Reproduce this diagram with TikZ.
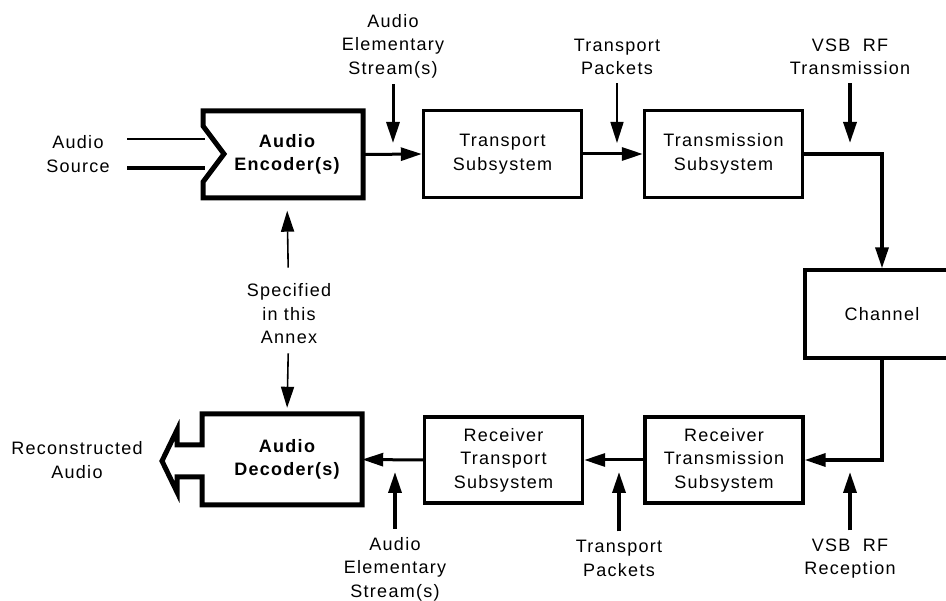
\documentclass[tikz,border=0pt]{standalone}
\usepackage{fontspec}
\setmainfont{Liberation Sans}[LetterSpace=7]
\usetikzlibrary{arrows.meta}

\begin{document}
\begin{tikzpicture}[x=1pt,y=-1pt,
  every node/.style={font=\fontsize{18}{23.5}\selectfont, align=center, inner sep=0pt},
  blockbox/.style={draw, line width=3.4pt, minimum width=158pt, minimum height=87pt},
  audiotext/.style={minimum height=88pt, font=\fontsize{18}{23.5}\selectfont\bfseries},
  flow/.style={line width=3pt, -{Triangle[length=21pt,width=13pt]}},
  heavyfeed/.style={line width=3.4pt, -{Triangle[length=21pt,width=13pt]}},
  thinfeed/.style={line width=1.6pt, -{Triangle[length=21pt,width=13pt]}},
  outline/.style={line width=5pt, line join=miter}
]
\useasboundingbox (0,0) rectangle (946,601);

% ---- encoder with notched input ----
\node[audiotext, minimum width=152pt] (enc) at (287,154.5) {Audio\\Encoder(s)};
\draw[outline] (203,111) -- (363,111) -- (363,198) -- (203,198) -- (203,182)
  -- (224,154) -- (203,126) -- cycle;
\node (src) at (78,154) {Audio\\Source};
\coordinate (srcA) at (127,139);
\coordinate (srcB) at (127,168);
\draw[line width=1.5pt] (srcA) -- (205,139);
\draw[line width=3.4pt] (srcB) -- (205,168);

% ---- decoder with block-arrow output ----
\node[audiotext, minimum width=150pt, minimum height=91pt] (dec) at (287,459.5) {Audio\\Decoder(s)};
\draw[outline] (202,414) -- (362,414) -- (362,505) -- (202,505) -- (202,477)
  -- (177,477) -- (177,492) -- (162,461) -- (177,430) -- (177,445) -- (202,445) -- cycle;
\node (rec) at (77,460) {Reconstructed\\Audio};

% ---- processing blocks ----
\node[blockbox] (tr) at (502.5,154) {Transport\\Subsystem};
\node[blockbox] (tm) at (723.5,154) {Transmission\\Subsystem};
\node[blockbox, minimum width=154pt, minimum height=88pt] (ch) at (882,314) {Channel};
\node[blockbox, minimum height=86pt] (rtm) at (724,460) {Receiver\\Transmission\\Subsystem};
\node[blockbox, minimum height=86pt] (rt) at (503.5,460) {Receiver\\Transport\\Subsystem};

% ---- main signal path ----
\draw[flow] (enc.east) -- (tr.west);
\draw[flow] (tr.east) -- (tm.west);
\draw[heavyfeed] (tm.east) -| (ch.north);
\draw[heavyfeed] (ch.south) |- (rtm.east);
\draw[flow] (rtm.west) -- (rt.east);
\draw[flow] (rt.west) -- (dec.east);

% ---- annotations on the transmit side ----
\node (aesT) at (393,46) {Audio\\Elementary\\Stream(s)};
\coordinate (aesTtip) at (393,143);
\draw[flow, shorten <=6pt] (aesT) -- (aesTtip);

\node (tpT) at (617,57) {Transport\\Packets};
\coordinate (tpTtip) at (617,143);
\draw[thinfeed, shorten <=8pt] (tpT) -- (tpTtip);

\node (vsbT) at (850,57) {VSB\ \ RF\\Transmission};
\coordinate (vsbTtip) at (850,143);
\draw[heavyfeed, shorten <=8pt] (vsbT) -- (vsbTtip);

% ---- scope note between encoder and decoder ----
\node (spec) at (289,314) {Specified\\in this\\Annex};
\draw[thinfeed, shorten <=16pt, shorten >=12pt] (spec) -- (enc.south);
\draw[thinfeed, shorten <=9pt, shorten >=6pt] (spec) -- (dec.north);

% ---- annotations on the receive side ----
\node (aesR) at (395,569) {Audio\\Elementary\\Stream(s)};
\coordinate (aesRtip) at (395,472);
\draw[heavyfeed, shorten <=8pt] (aesR) -- (aesRtip);

\node (tpR) at (619,558.5) {Transport\\Packets};
\coordinate (tpRtip) at (619,472);
\draw[heavyfeed, shorten <=9pt] (tpR) -- (tpRtip);

\node (vsbR) at (850,558.5) {VSB\ \ RF\\Reception};
\coordinate (vsbRtip) at (850,472);
\draw[heavyfeed, shorten <=8pt] (vsbR) -- (vsbRtip);
\end{tikzpicture}
\end{document}
